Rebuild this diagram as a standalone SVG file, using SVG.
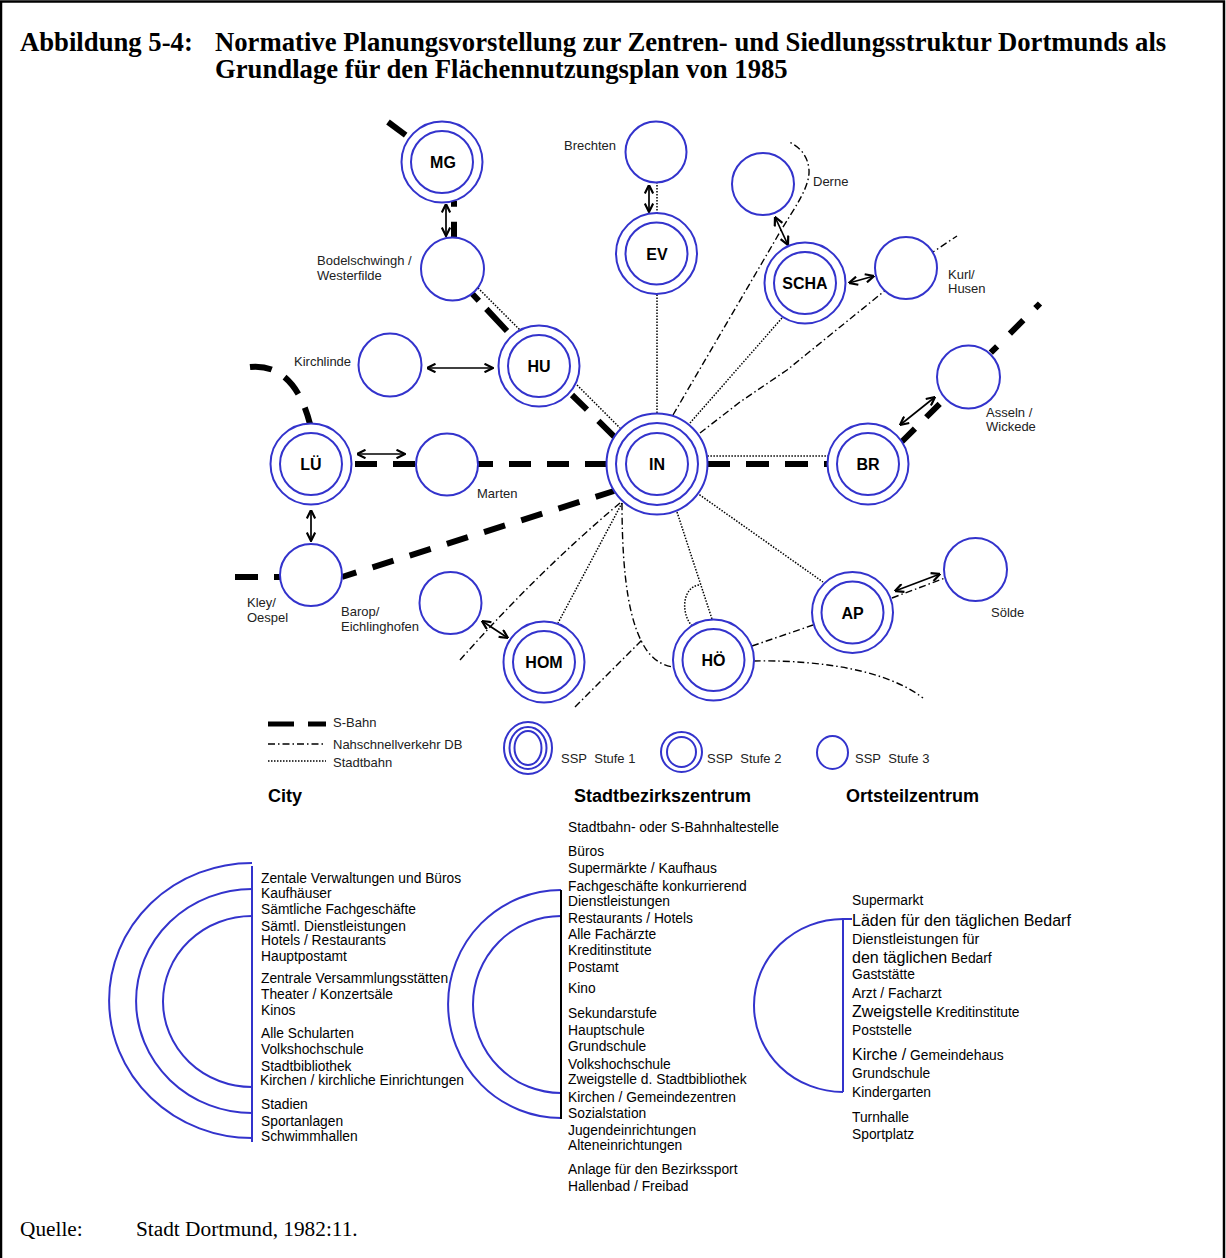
<svg xmlns="http://www.w3.org/2000/svg" width="1226" height="1258" viewBox="0 0 1226 1258">
<defs>
<style>
.c{fill:#fff;stroke:#3333cc;stroke-width:2}
.r{fill:none;stroke:#3333cc;stroke-width:2}
.lab{font-family:"Liberation Sans",Arial,sans-serif;font-size:13px;fill:#222}
.nl{font-family:"Liberation Sans",Arial,sans-serif;font-size:16px;font-weight:bold;text-anchor:middle;fill:#000}
.sb{stroke:#000;stroke-width:6;fill:none;stroke-dasharray:22 16}
.db{stroke:#000;stroke-width:1.4;fill:none;stroke-dasharray:7 3 1.5 3}
.st{stroke:#000;stroke-width:1.5;fill:none;stroke-dasharray:1.5 1.5}
.ar{stroke:#000;stroke-width:1.7;fill:none;marker-start:url(#ah);marker-end:url(#ah)}
.li{font-family:"Liberation Sans",Arial,sans-serif;font-size:13.8px;fill:#000}
.big{font-size:16px}
.hd{font-family:"Liberation Sans",Arial,sans-serif;font-size:18px;font-weight:bold;fill:#000}
.ti{font-family:"Liberation Serif","Times New Roman",serif;font-size:26.7px;font-weight:bold;fill:#000}
.q{font-family:"Liberation Serif","Times New Roman",serif;font-size:21.3px;fill:#000}
</style>
<marker id="ah" viewBox="0 0 10 10" refX="9.5" refY="5" markerWidth="10" markerHeight="10" markerUnits="userSpaceOnUse" orient="auto-start-reverse">
<path d="M1,0.8 L9.5,5 L1,9.2" fill="none" stroke="#000" stroke-width="2.2"/>
</marker>
</defs>
<rect x="0" y="0" width="1226" height="1258" fill="#fff"/>
<path d="M1,1300 V1.5 H1224 V1300" fill="none" stroke="#000" stroke-width="2.5"/>

<g id="title">
<text class="ti" x="20" y="51">Abbildung 5-4:</text>
<text class="ti" x="215" y="51">Normative Planungsvorstellung zur Zentren- und Siedlungsstruktur Dortmunds als</text>
<text class="ti" x="215" y="78">Grundlage für den Flächennutzungsplan von 1985</text>
</g>

<g id="connectors">
<!-- S-Bahn -->
<line class="sb" x1="388" y1="122" x2="409.5" y2="138"/>
<line class="sb" x1="454" y1="200.7" x2="454" y2="237.5" style="stroke-dasharray:6 15 22 16"/>
<line class="sb" x1="472" y1="293.5" x2="507" y2="331" style="stroke-dasharray:10 11 31 10"/>
<line class="sb" x1="572" y1="395" x2="615" y2="437.3" style="stroke-dasharray:21 16 30"/>
<line class="sb" x1="352" y1="464" x2="416" y2="464" style="stroke-dashoffset:-3"/>
<line class="sb" x1="478" y1="464" x2="607" y2="464" style="stroke-dashoffset:7"/>
<line class="sb" x1="707" y1="464" x2="828" y2="464" style="stroke-dasharray:23 16"/>
<line class="sb" x1="901.5" y1="442" x2="946.5" y2="397" style="stroke-dasharray:19 16"/>
<line class="sb" x1="990.8" y1="352.7" x2="1040" y2="303.5" style="stroke-dasharray:9 18 19 17"/>
<line class="sb" x1="342" y1="577" x2="614" y2="491" style="stroke-dasharray:22 17;stroke-dashoffset:7"/>
<line class="sb" x1="235" y1="577" x2="280" y2="577" style="stroke-dasharray:23 16"/>
<path class="sb" d="M250,367 C280,364 300,385 310,424" style="stroke-dasharray:22 15"/>
<!-- Stadtbahn -->
<line class="st" x1="478" y1="288" x2="520" y2="330"/>
<line class="st" x1="577" y1="385" x2="620" y2="428"/>
<line class="st" x1="657" y1="294.5" x2="657" y2="413"/>
<line class="st" x1="657" y1="182" x2="657" y2="213"/>
<line class="st" x1="690" y1="423" x2="782" y2="318"/>
<line class="st" x1="707.4" y1="456" x2="828.8" y2="456"/>
<line class="st" x1="697" y1="493" x2="823" y2="582"/>
<line class="st" x1="677" y1="512" x2="712" y2="619"/>
<path class="st" d="M699,585 C683,587 680,612 692,626"/>
<line class="st" x1="622" y1="503" x2="558" y2="623"/>
<!-- Nahschnellverkehr DB -->
<path class="db" d="M673,415 L780,232 C795,207 810,187 809,170 C808,156 800,147 789,142"/>
<path class="db" d="M700,433 L740,402 L787,370 L840,327 L882,293 L933,252 L957,236"/>
<path class="db" d="M622,503 C622,580 630,628 648,652 C656,662 665,666 673,667"/>
<path class="db" d="M754,661 C800,660 880,665 923,698"/>
<path class="db" d="M620,503 Q540,570 460,660"/>
<line class="db" x1="575" y1="707" x2="642" y2="640"/>
<line class="db" x1="752" y1="646" x2="813" y2="625"/>
<line class="db" x1="892" y1="598" x2="945" y2="578"/>
<!-- Arrows -->
<line class="ar" x1="446" y1="204" x2="446" y2="236"/>
<line class="ar" x1="427" y1="368" x2="493" y2="368"/>
<line class="ar" x1="357" y1="454" x2="405" y2="454"/>
<line class="ar" x1="311" y1="510" x2="311" y2="541"/>
<line class="ar" x1="482" y1="621" x2="508" y2="638"/>
<line class="ar" x1="649" y1="185" x2="649" y2="212"/>
<line class="ar" x1="775" y1="217" x2="788" y2="245"/>
<line class="ar" x1="849" y1="283" x2="874" y2="276"/>
<line class="ar" x1="900" y1="425" x2="935" y2="397"/>
<line class="ar" x1="895" y1="591" x2="940" y2="574"/>
</g>

<g id="MG"><circle class="c" cx="442" cy="162" r="40.5"/><circle class="r" cx="442" cy="162" r="31"/><text class="nl" x="443" y="168">MG</text></g>
<g id="Brechten"><circle class="c" cx="656" cy="152" r="30.5"/><text class="lab" x="564" y="150">Brechten</text></g>
<g id="EV"><circle class="c" cx="656.5" cy="253.5" r="40.5"/><circle class="r" cx="656.5" cy="253.5" r="31"/><text class="nl" x="657" y="259.5">EV</text></g>
<g id="Derne"><circle class="c" cx="763" cy="184" r="31"/><text class="lab" x="813" y="186">Derne</text></g>
<g id="SCHA"><circle class="c" cx="805" cy="283" r="40.5"/><circle class="r" cx="805" cy="283" r="31"/><text class="nl" x="805" y="289">SCHA</text></g>
<g id="Kurl"><circle class="c" cx="906" cy="268" r="31"/><text class="lab" x="948" y="279">Kurl/</text><text class="lab" x="948" y="293">Husen</text></g>
<g id="Bodelschwingh"><circle class="c" cx="452.5" cy="269" r="31.5"/><text class="lab" x="317" y="265">Bodelschwingh /</text><text class="lab" x="317" y="280">Westerfilde</text></g>
<g id="Kirchlinde"><circle class="c" cx="390" cy="365" r="31.5"/><text class="lab" x="294" y="366">Kirchlinde</text></g>
<g id="HU"><circle class="c" cx="539" cy="366" r="40.5"/><circle class="r" cx="539" cy="366" r="31"/><text class="nl" x="539" y="372">HU</text></g>
<g id="Asseln"><circle class="c" cx="968.5" cy="377" r="31.5"/><text class="lab" x="986" y="417">Asseln /</text><text class="lab" x="986" y="431">Wickede</text></g>
<g id="LUE"><circle class="c" cx="311" cy="464" r="40.5"/><circle class="r" cx="311" cy="464" r="31"/><text class="nl" x="311" y="470">LÜ</text></g>
<g id="Marten"><circle class="c" cx="447" cy="464.5" r="31"/><text class="lab" x="477" y="498">Marten</text></g>
<g id="IN"><circle class="c" cx="657" cy="464" r="50.5"/><circle class="r" cx="657" cy="464" r="41"/><circle class="r" cx="657" cy="464" r="31"/><text class="nl" x="657" y="470">IN</text></g>
<g id="BR"><circle class="c" cx="868" cy="464" r="40.5"/><circle class="r" cx="868" cy="464" r="31"/><text class="nl" x="868" y="470">BR</text></g>
<g id="Kley"><circle class="c" cx="311" cy="575" r="31"/><text class="lab" x="247" y="607">Kley/</text><text class="lab" x="247" y="622">Oespel</text></g>
<g id="Barop"><circle class="c" cx="450.5" cy="603" r="31"/><text class="lab" x="341" y="616">Barop/</text><text class="lab" x="341" y="631">Eichlinghofen</text></g>
<g id="HOM"><circle class="c" cx="544" cy="662" r="40.5"/><circle class="r" cx="544" cy="662" r="31"/><text class="nl" x="544" y="668">HOM</text></g>
<g id="HOE"><circle class="c" cx="713.5" cy="660" r="40.5"/><circle class="r" cx="713.5" cy="660" r="31"/><text class="nl" x="713.5" y="666">HÖ</text></g>
<g id="AP"><circle class="c" cx="852.5" cy="612.5" r="40.5"/><circle class="r" cx="852.5" cy="612.5" r="31"/><text class="nl" x="852.5" y="618.5">AP</text></g>
<g id="Soelde"><circle class="c" cx="975.5" cy="569.5" r="31.5"/><text class="lab" x="991" y="617">Sölde</text></g>

<g id="legend">
<line class="sb" x1="268" y1="724" x2="326" y2="724" style="stroke-width:5;stroke-dasharray:26 14"/>
<text class="lab" x="333" y="727">S-Bahn</text>
<line class="db" x1="268" y1="744" x2="326" y2="744"/>
<text class="lab" x="333" y="749">Nahschnellverkehr DB</text>
<line class="st" x1="268" y1="761" x2="326" y2="761"/>
<text class="lab" x="333" y="767">Stadtbahn</text>
<ellipse class="r" cx="528" cy="748" rx="24" ry="26"/>
<ellipse class="r" cx="528" cy="748" rx="18.5" ry="21"/>
<ellipse class="r" cx="528" cy="748" rx="13.5" ry="17"/>
<text class="lab" x="561" y="763">SSP&#160; Stufe 1</text>
<ellipse class="r" cx="681.5" cy="752" rx="20.5" ry="20"/>
<ellipse class="r" cx="681.5" cy="752" rx="14.5" ry="15"/>
<text class="lab" x="707" y="763">SSP&#160; Stufe 2</text>
<ellipse class="r" cx="832.5" cy="752.5" rx="15.5" ry="16.5"/>
<text class="lab" x="855" y="763">SSP&#160; Stufe 3</text>
</g>

<g id="city">
<text class="hd" x="268" y="802">City</text>
<path class="r" d="M252,863 A143,137.5 0 0 0 252,1138"/>
<path class="r" d="M252,889 A116,112 0 0 0 252,1113"/>
<path class="r" d="M252,916 A89,85.5 0 0 0 252,1087"/>
<line x1="252" y1="866" x2="252" y2="1142" stroke="#3333cc" stroke-width="2"/>
<text class="li" x="261" y="883">Zentale Verwaltungen und Büros</text>
<text class="li" x="261" y="898">Kaufhäuser</text>
<text class="li" x="261" y="914">Sämtliche Fachgeschäfte</text>
<text class="li" x="261" y="931">Sämtl. Dienstleistungen</text>
<text class="li" x="261" y="945">Hotels / Restaurants</text>
<text class="li" x="261" y="961">Hauptpostamt</text>
<text class="li" x="261" y="983">Zentrale Versammlungsstätten</text>
<text class="li" x="261" y="999">Theater / Konzertsäle</text>
<text class="li" x="261" y="1015">Kinos</text>
<text class="li" x="261" y="1038">Alle Schularten</text>
<text class="li" x="261" y="1054">Volkshochschule</text>
<text class="li" x="261" y="1071">Stadtbibliothek</text>
<text class="li" x="260" y="1085">Kirchen / kirchliche Einrichtungen</text>
<text class="li" x="261" y="1109">Stadien</text>
<text class="li" x="261" y="1126">Sportanlagen</text>
<text class="li" x="261" y="1141">Schwimmhallen</text>
</g>

<g id="stadtbezirkszentrum">
<text class="hd" x="574" y="802">Stadtbezirkszentrum</text>
<path class="r" d="M561,890 A113,114 0 0 0 561,1118"/>
<path class="r" d="M561,916 A88,88.5 0 0 0 561,1093"/>
<line x1="561" y1="890" x2="561" y2="1119" stroke="#000" stroke-width="2"/>
<text class="li" x="568" y="832">Stadtbahn- oder S-Bahnhaltestelle</text>
<text class="li" x="568" y="856">Büros</text>
<text class="li" x="568" y="873">Supermärkte / Kaufhaus</text>
<text class="li" x="568" y="891">Fachgeschäfte konkurrierend</text>
<text class="li" x="568" y="906">Dienstleistungen</text>
<text class="li" x="568" y="923">Restaurants / Hotels</text>
<text class="li" x="568" y="939">Alle Fachärzte</text>
<text class="li" x="568" y="955">Kreditinstitute</text>
<text class="li" x="568" y="972">Postamt</text>
<text class="li" x="568" y="993">Kino</text>
<text class="li" x="568" y="1018">Sekundarstufe</text>
<text class="li" x="568" y="1035">Hauptschule</text>
<text class="li" x="568" y="1051">Grundschule</text>
<text class="li" x="568" y="1069">Volkshochschule</text>
<text class="li" x="568" y="1084">Zweigstelle d. Stadtbibliothek</text>
<text class="li" x="568" y="1102">Kirchen / Gemeindezentren</text>
<text class="li" x="568" y="1118">Sozialstation</text>
<text class="li" x="568" y="1135">Jugendeinrichtungen</text>
<text class="li" x="568" y="1150">Alteneinrichtungen</text>
<text class="li" x="568" y="1174">Anlage für den Bezirkssport</text>
<text class="li" x="568" y="1191">Hallenbad / Freibad</text>
</g>

<g id="ortsteilzentrum">
<text class="hd" x="846" y="802">Ortsteilzentrum</text>
<path class="r" d="M852,919 H843 A89,86.5 0 0 0 843,1092"/>
<line x1="843" y1="919" x2="843" y2="1092" stroke="#3333cc" stroke-width="2"/>
<text class="li" x="852" y="905">Supermarkt</text>
<text class="li big" x="852" y="926">Läden für den täglichen Bedarf</text>
<text class="li" x="852" y="944" style="font-size:14.4px">Dienstleistungen für</text>
<text class="li" x="852" y="963"><tspan class="big">den täglichen</tspan> Bedarf</text>
<text class="li" x="852" y="979">Gaststätte</text>
<text class="li" x="852" y="998">Arzt / Facharzt</text>
<text class="li" x="852" y="1017"><tspan class="big">Zweigstelle</tspan> Kreditinstitute</text>
<text class="li" x="852" y="1035">Poststelle</text>
<text class="li" x="852" y="1060"><tspan class="big">Kirche /</tspan> Gemeindehaus</text>
<text class="li" x="852" y="1078">Grundschule</text>
<text class="li" x="852" y="1097">Kindergarten</text>
<text class="li" x="852" y="1122">Turnhalle</text>
<text class="li" x="852" y="1139">Sportplatz</text>
</g>

<g id="source">
<text class="q" x="20" y="1236">Quelle:</text>
<text class="q" x="136" y="1236">Stadt Dortmund, 1982:11.</text>
</g>
</svg>
